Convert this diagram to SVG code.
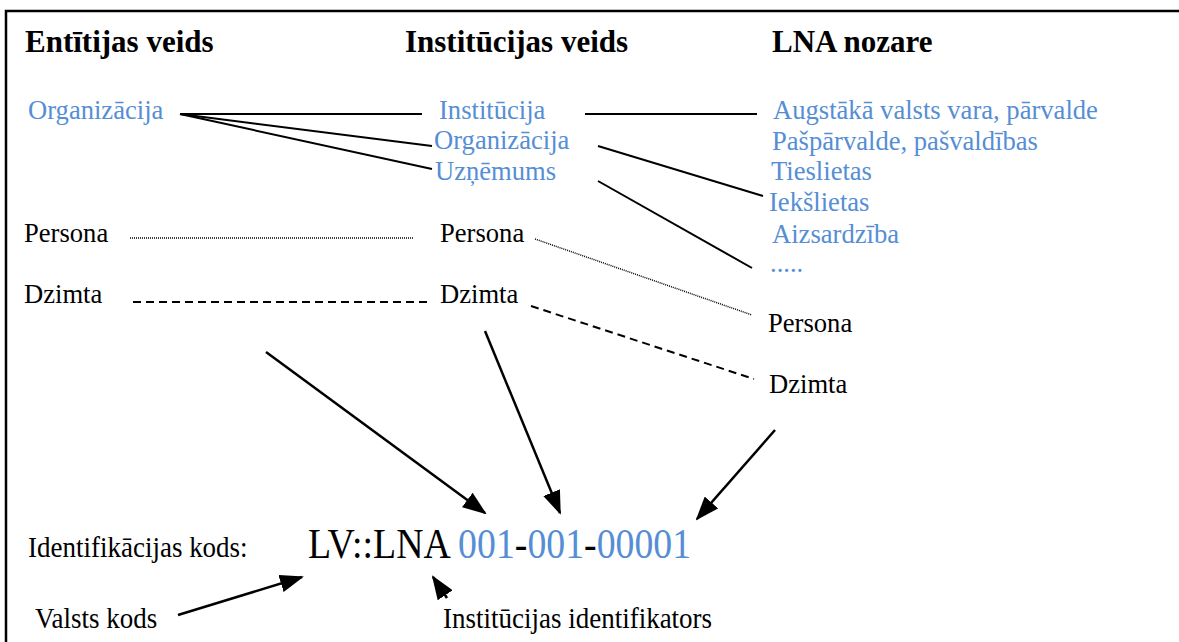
<svg xmlns="http://www.w3.org/2000/svg" width="1179" height="642" viewBox="0 0 1179 642">
<style>
text{font-family:"Liberation Serif","Times New Roman",serif;font-size:26.6px;fill:#000}
.h{font-weight:bold;font-size:31px}
.b{fill:#558ED5}
.lab{font-size:27px}
.code{font-size:37.8px}
.ln{stroke:#000;stroke-width:2;fill:none}
.dot{stroke:#000;stroke-width:1.5;stroke-dasharray:1 1;fill:none}
.dash{stroke:#000;stroke-width:2;stroke-dasharray:8 5;fill:none}
.ar{stroke:#000;stroke-width:2.5;fill:none;marker-end:url(#ah)}
</style>
<defs>
<marker id="ah" viewBox="0 0 24 18" markerWidth="24" markerHeight="18" refX="22" refY="9" orient="auto" markerUnits="userSpaceOnUse">
<path d="M0,0 L24,9 L0,18 z" fill="#000"/>
</marker>
</defs>
<rect width="1179" height="642" fill="#fff"/>
<path d="M6,642 V11 H1179" stroke="#000" stroke-width="2.5" fill="none"/>
<g id="headings">
<text class="h" x="25" y="52">Entītijas veids</text>
<text class="h" x="405" y="52">Institūcijas veids</text>
<text class="h" x="772" y="52">LNA nozare</text>
</g>
<g id="n-ent-org"><text class="b" x="28" y="119">Organizācija</text></g>
<g id="n-ent-persona"><text x="24" y="242">Persona</text></g>
<g id="n-ent-dzimta"><text x="24" y="303">Dzimta</text></g>
<g id="n-inst-institucija"><text class="b" x="439" y="119">Institūcija</text></g>
<g id="n-inst-org"><text class="b" x="434" y="149">Organizācija</text></g>
<g id="n-inst-uzn"><text class="b" x="435" y="180">Uzņēmums</text></g>
<g id="n-inst-persona"><text x="440" y="242">Persona</text></g>
<g id="n-inst-dzimta"><text x="440" y="303">Dzimta</text></g>
<g id="n-lna">
<text class="b" x="773" y="119">Augstākā valsts vara, pārvalde</text>
<text class="b" x="772" y="150">Pašpārvalde, pašvaldības</text>
<text class="b" x="771" y="180">Tieslietas</text>
<text class="b" x="769" y="211">Iekšlietas</text>
<text class="b" x="772" y="243">Aizsardzība</text>
<text class="b" x="770" y="272">.....</text>
</g>
<g id="n-lna-persona"><text x="768" y="332">Persona</text></g>
<g id="n-lna-dzimta"><text x="769" y="393">Dzimta</text></g>
<g id="n-code">
<text class="lab" transform="translate(28,557) scale(1,1.12)">Identifikācijas kods:</text>
<text class="code" transform="translate(308,558) scale(1,1.1)">LV::LNA <tspan class="b">001</tspan>-<tspan class="b">001</tspan>-<tspan class="b">00001</tspan></text>
</g>
<g id="n-valsts"><text class="lab" transform="translate(35,628) scale(1,1.12)">Valsts kods</text></g>
<g id="n-instid"><text class="lab" transform="translate(443,628) scale(1,1.12)">Institūcijas identifikators</text></g>
<g id="connectors">
<line class="ln" x1="180" y1="114" x2="422" y2="114"/>
<line class="ln" x1="180" y1="114" x2="432" y2="146"/>
<line class="ln" x1="180" y1="114" x2="432" y2="169"/>
<line class="ln" x1="585" y1="114" x2="757" y2="114"/>
<line class="ln" x1="598" y1="146" x2="763" y2="196"/>
<line class="ln" x1="598" y1="181" x2="752" y2="268"/>
<line class="dot" x1="130" y1="238" x2="414" y2="238"/>
<line class="dot" x1="535" y1="239" x2="752" y2="315"/>
<line class="dash" x1="133" y1="302" x2="430" y2="302"/>
<line class="dash" x1="531" y1="306" x2="754" y2="379"/>
<line class="ar" x1="266" y1="352" x2="485" y2="513"/>
<line class="ar" x1="485" y1="331" x2="560" y2="513"/>
<line class="ar" x1="775" y1="430" x2="697" y2="519"/>
<line class="ar" x1="178" y1="615" x2="302" y2="577"/>
<line class="ar" x1="447" y1="598" x2="433" y2="577"/>
</g>
</svg>
